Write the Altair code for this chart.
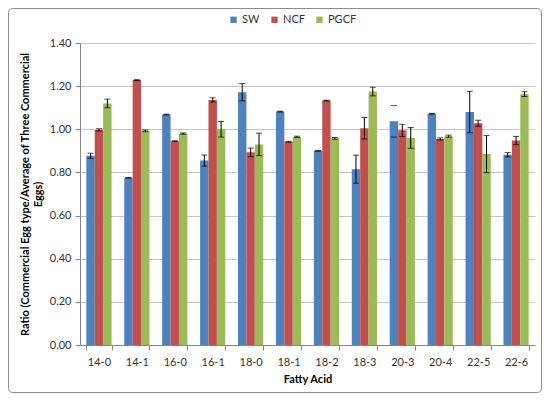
import altair as alt
import pandas as pd

cats = ["14-0", "14-1", "16-0", "16-1", "18-0", "18-1", "18-2", "18-3", "20-3", "20-4", "22-5", "22-6"]
series = ["SW", "NCF", "PGCF"]
sw = [0.877, 0.775, 1.068, 0.855, 1.172, 1.082, 0.900, 0.815, 1.037, 1.072, 1.080, 0.882]
sw_err = [0.012, 0.002, 0.002, 0.026, 0.040, 0.002, 0.002, 0.065, 0.073, 0.002, 0.096, 0.010]
ncf = [0.997, 1.228, 0.945, 1.136, 0.893, 0.942, 1.133, 1.005, 0.995, 0.955, 1.028, 0.948]
ncf_err = [0.005, 0.002, 0.002, 0.010, 0.020, 0.002, 0.002, 0.050, 0.028, 0.005, 0.014, 0.019]
pgcf = [1.120, 0.993, 0.980, 1.000, 0.930, 0.965, 0.958, 1.175, 0.960, 0.968, 0.885, 1.163]
pgcf_err = [0.020, 0.004, 0.003, 0.036, 0.052, 0.003, 0.004, 0.020, 0.048, 0.005, 0.086, 0.011]
# error bars drawn with caps only (no stem) in the original
capsonly = [("20-3", "SW")]

rows = []
for s, vals, errs in [("SW", sw, sw_err), ("NCF", ncf, ncf_err), ("PGCF", pgcf, pgcf_err)]:
    for c, v, e in zip(cats, vals, errs):
        rows.append({"acid": c, "series": s, "value": v, "lo": v - e, "hi": v + e,
                     "stem": 0 if (c, s) in capsonly else 1})
df = pd.DataFrame(rows)

FONT = "Lato"
colors = ["#4F81BD", "#C0504D", "#9BBB59"]

xenc = alt.X("acid:N", sort=cats, title="Fatty Acid",
             scale=alt.Scale(paddingInner=0.335, paddingOuter=0.167),
             axis=alt.Axis(labelAngle=0, tickBand="extent", tickSize=5, tickColor="#868686",
                           domainColor="#868686", labelFontSize=11, labelColor="#333333",
                           labelPadding=6, titleFontSize=11, titleFontWeight="bold",
                           titleColor="#000000", titlePadding=6, grid=False))
xoff = alt.XOffset("series:N", sort=series, scale=alt.Scale(paddingInner=0, paddingOuter=0))

base = alt.Chart(df)

bars = base.mark_bar().encode(
    x=xenc,
    xOffset=xoff,
    y=alt.Y("value:Q",
            scale=alt.Scale(domain=[0, 1.4], nice=False),
            title=["Ratio (Commercial Egg type/Average of Three Commercial", "Eggs)"],
            axis=alt.Axis(values=[0, 0.2, 0.4, 0.6, 0.8, 1.0, 1.2, 1.4], format=".2f",
                          tickSize=5, tickColor="#868686", domainColor="#868686",
                          gridColor="#c6c6c6", labelFontSize=11, labelColor="#333333",
                          labelPadding=4, titleFontSize=11, titleFontWeight="bold",
                          titleColor="#000000", titlePadding=6, titleLineHeight=13)),
    color=alt.Color("series:N", sort=series,
                    scale=alt.Scale(domain=series, range=colors),
                    legend=alt.Legend(title=None, orient="none", direction="horizontal",
                                      legendX=148, legendY=-29, symbolType="square",
                                      symbolSize=40, symbolStrokeWidth=0,
                                      labelFontSize=11, labelFont=FONT, labelColor="#333333",
                                      labelOffset=3, columnPadding=9)),
)

stems = base.mark_rule(color="#000000", strokeWidth=1).encode(
    x=alt.X("acid:N", sort=cats),
    xOffset=xoff,
    y="lo:Q",
    y2="hi:Q",
    opacity=alt.Opacity("stem:Q", scale=None),
)

caps_hi = base.mark_tick(color="#000000", thickness=1, size=6, orient="horizontal").encode(
    x=alt.X("acid:N", sort=cats), xOffset=xoff, y="hi:Q")
caps_lo = base.mark_tick(color="#000000", thickness=1, size=6, orient="horizontal").encode(
    x=alt.X("acid:N", sort=cats), xOffset=xoff, y="lo:Q")

border = alt.Chart(pd.DataFrame({"a": [0]})).mark_rect(
    filled=False, stroke="#8c8c8c", strokeWidth=1, cornerRadius=4
).encode(x=alt.value(-71.5), x2=alt.value(461.5), y=alt.value(-34.5), y2=alt.value(349.5))

chart = alt.layer(bars, stems, caps_hi, caps_lo, border).properties(
    width=455, height=302,
    autosize=alt.AutoSizeParams(type="none"),
    padding={"left": 72, "top": 35, "right": 7, "bottom": 49},
).configure(font=FONT).configure_view(stroke=None)

chart.save("out.html", embed_options={"renderer": "svg", "actions": False})
